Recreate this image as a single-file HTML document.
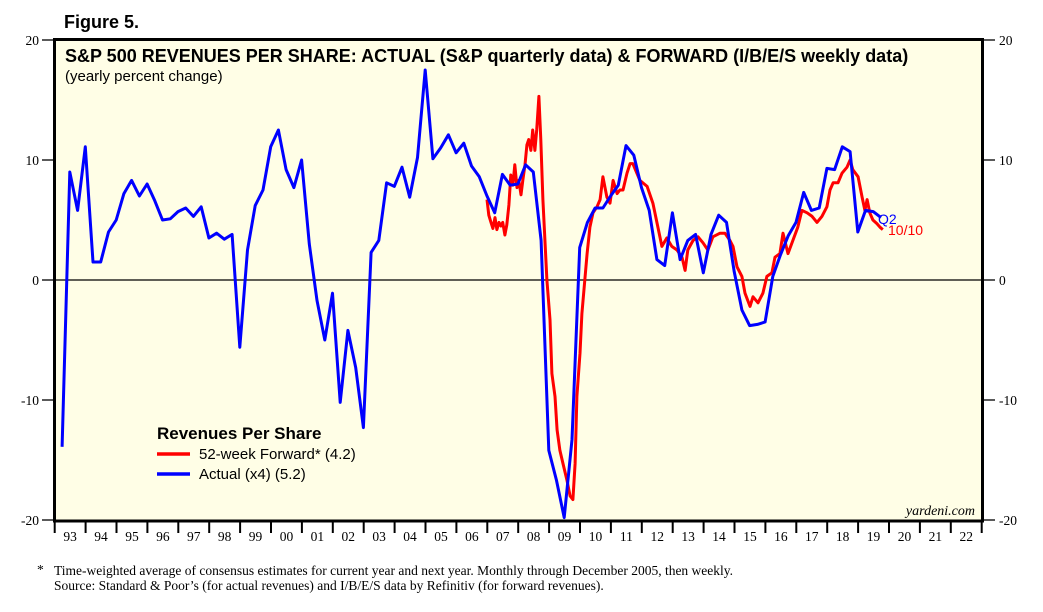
<!DOCTYPE html>
<html><head><meta charset="utf-8">
<style>
html,body{margin:0;padding:0;background:#fff;}
svg{display:block;}
</style></head>
<body>
<svg id="chart" width="1043" height="612" viewBox="0 0 1043 612" xmlns="http://www.w3.org/2000/svg" font-family="'Liberation Sans', sans-serif">
<text x="64" y="28" font-size="18" font-weight="bold">Figure 5.</text>
<rect x="54.5" y="39.5" width="928" height="481.5" fill="#fffee6" stroke="#000" stroke-width="3"/>
<g id="grid"></g>
<g id="series"></g>
<text x="65" y="62" font-size="18" font-weight="bold">S&amp;P 500 REVENUES PER SHARE: ACTUAL (S&amp;P quarterly data) &amp; FORWARD (I/B/E/S weekly data)</text>
<text x="65" y="81" font-size="15">(yearly percent change)</text>
<g>
<text x="157" y="439" font-size="17" font-weight="bold">Revenues Per Share</text>
<line x1="157" y1="454" x2="190" y2="454" stroke="#f00" stroke-width="3.5"/>
<text x="199" y="459" font-size="15">52-week Forward* (4.2)</text>
<line x1="157" y1="474" x2="190" y2="474" stroke="#00f" stroke-width="3.5"/>
<text x="199" y="479" font-size="15">Actual (x4) (5.2)</text>
</g>
<text x="878" y="224" font-size="14" fill="#00f">Q2</text>
<text x="888" y="235" font-size="14" fill="#f00">10/10</text>
<text x="975" y="515" font-size="14" font-style="italic" font-family="'Liberation Serif', serif" text-anchor="end">yardeni.com</text>
<g font-family="'Liberation Serif', serif" font-size="13.5">
<text x="37" y="574">*</text>
<text x="54" y="575">Time-weighted average of consensus estimates for current year and next year. Monthly through December 2005, then weekly.</text>
<text x="54" y="590">Source: Standard &amp; Poor’s (for actual revenues) and I/B/E/S data by Refinitiv (for forward revenues).</text>
</g>
</svg>
<script>
const yTicks = [20, 10, 0, -10, -20];
const yearLabels = ["93","94","95","96","97","98","99","00","01","02","03","04","05","06","07","08","09","10","11","12","13","14","15","16","17","18","19","20","21","22"];
const actualStart = 1993.24;
const actualValues = [-13.9,9,5.8,11.1,1.5,1.5,4,5,7.2,8.3,
7,8,6.6,5,5.1,5.7,6,5.3,6.1,3.5,
3.9,3.4,3.8,-5.6,2.5,6.2,7.5,11.1,12.5,9.2,
7.7,10,3,-1.7,-5,-1.1,-10.2,-4.2,-7.3,-12.3,
2.3,3.3,8.1,7.8,9.4,6.9,10.2,17.5,10.1,11,
12.1,10.6,11.4,9.5,8.6,7,5.6,8.8,7.9,8,
9.6,9,3.3,-14.2,-16.7,-19.8,-13.3,2.7,4.8,6,
6,7,7.9,11.2,10.4,7.7,5.8,1.7,1.2,5.6,
1.7,3.3,3.8,0.6,3.8,5.4,4.8,0.7,-2.5,-3.8,
-3.7,-3.5,0.3,2.1,3.7,4.8,7.3,5.8,6,9.3,
9.2,11.1,10.7,4,5.8,5.7,5.2];
const forwardDates = [2006.99,2007.05,2007.12,2007.18,2007.25,2007.31,2007.38,2007.44,2007.50,2007.57,2007.63,2007.70,2007.76,2007.83,2007.89,2007.96,2008.02,2008.09,2008.15,2008.22,2008.28,2008.34,2008.41,2008.47,2008.54,2008.60,2008.67,2008.73,2008.80,
2008.93,2009.03,2009.09,2009.19,2009.26,2009.35,2009.45,2009.58,2009.68,2009.77,2009.84,2009.90,2010.00,2010.06,
2010.23,2010.32,2010.42,2010.55,2010.65,2010.74,2010.87,2010.97,2011.07,2011.20,
2011.29,2011.39,2011.52,2011.62,2011.71,2011.94,2012.17,2012.36,2012.52,2012.65,
2012.81,2012.97,2013.14,2013.30,2013.40,2013.49,2013.66,2013.82,2013.98,2014.14,
2014.30,2014.53,2014.69,2014.85,2014.95,2015.08,2015.24,2015.34,2015.50,2015.60,
2015.76,2015.92,2016.05,2016.21,2016.31,2016.47,2016.57,2016.73,2016.89,2017.05,
2017.18,2017.35,2017.51,2017.67,2017.83,2017.99,2018.09,2018.19,2018.35,2018.48,
2018.64,2018.74,2018.83,2019.00,2019.13,2019.22,2019.29,2019.38,2019.48,2019.61,
2019.71,2019.80];
const forwardValues = [6.7,5.4,4.8,4.3,5.2,4.2,4.8,4.5,4.8,3.75,4.6,6.25,8.75,7.9,9.6,7.7,8.3,7.1,8.3,9.6,11.25,11.7,10.8,12.5,10.8,12.5,15.3,11.7,6.7,
0,-3.3,-7.8,-9.7,-12.5,-14.2,-15.3,-16.7,-18,-18.3,-15.3,-9.7,-6.1,-2.8,
2.2,4.4,5.6,6.1,6.7,8.6,6.9,6.4,8.3,7.2,
7.5,7.5,8.9,9.7,9.7,8.3,7.8,6.4,4.4,2.8,
3.5,2.8,2.5,1.9,0.8,2.5,3.3,3.6,3.1,2.5,
3.6,3.9,3.9,3.3,2.8,1.1,0.3,-1.1,-2.2,-1.4,
-1.9,-1.1,0.3,0.6,1.9,2.2,3.9,2.2,3.3,4.4,
5.8,5.6,5.3,4.8,5.3,6.1,7.5,8.1,8.1,8.9,
9.4,10,9.2,8.6,6.9,5.8,6.7,5.6,5,4.7,
4.4,4.2];

const NS = "http://www.w3.org/2000/svg";
const X0 = 54.7, YEARW = 30.9, Y0 = 280, UNIT = 12;
function xScale(t){ return X0 + (t - 1993) * YEARW; }
function yScale(v){ return Y0 - v * UNIT; }
function mk(tag, attrs, parent){ const e = document.createElementNS(NS, tag); for (const k in attrs) e.setAttribute(k, attrs[k]); parent.appendChild(e); return e; }
const svg = document.getElementById('chart');
const grid = document.getElementById('grid');
const series = document.getElementById('series');

const zl = mk('line', {x1: 56, x2: 981, y1: yScale(0), y2: yScale(0), stroke: '#000', 'stroke-width': 1.2}, grid);



yTicks.forEach(v => {
  const y = yScale(v);
  const tl = mk('line', {x1: 42, x2: 54, y1: y, y2: y, stroke: '#000', 'stroke-width': 1.3}, svg);
  
  
  const tr = mk('line', {x1: 983, x2: 995, y1: y, y2: y, stroke: '#000', 'stroke-width': 1.3}, svg);
  
  
  const lt = mk('text', {x: 39, y: y + 5, 'text-anchor': 'end', 'font-size': 13.5, 'font-family': "'Liberation Serif', serif"}, svg);
  lt.textContent = v;
  
  
  const rt = mk('text', {x: 999, y: y + 5, 'font-size': 13.5, 'font-family': "'Liberation Serif', serif"}, svg);
  rt.textContent = v;
  
  
});

yearLabels.forEach((lab, i) => {
  const x = xScale(1993 + i);
  const tk = mk('line', {x1: x, x2: x, y1: 521, y2: 533, stroke: '#000', 'stroke-width': 2}, svg);
  
  
  const t = mk('text', {x: x + YEARW / 2, y: 541, 'text-anchor': 'middle', 'font-size': 13.5, 'font-family': "'Liberation Serif', serif"}, svg);
  t.textContent = lab;
  
  
});
const lastTick = mk('line', {x1: xScale(2023), x2: xScale(2023), y1: 521, y2: 533, stroke: '#000', 'stroke-width': 2}, svg);



const fwdPts = forwardValues.map((v, i) => xScale(forwardDates[i]).toFixed(1) + ',' + yScale(v).toFixed(1)).join(' ');
const fwd = mk('polyline', {points: fwdPts, fill: 'none', stroke: '#f00', 'stroke-width': 3, 'stroke-linejoin': 'round'}, series);



const actPts = actualValues.map((v, i) => xScale(actualStart + i * 0.25).toFixed(1) + ',' + yScale(v).toFixed(1)).join(' ');
const act = mk('polyline', {points: actPts, fill: 'none', stroke: '#00f', 'stroke-width': 3, 'stroke-linejoin': 'round'}, series);


</script>
</body></html>
